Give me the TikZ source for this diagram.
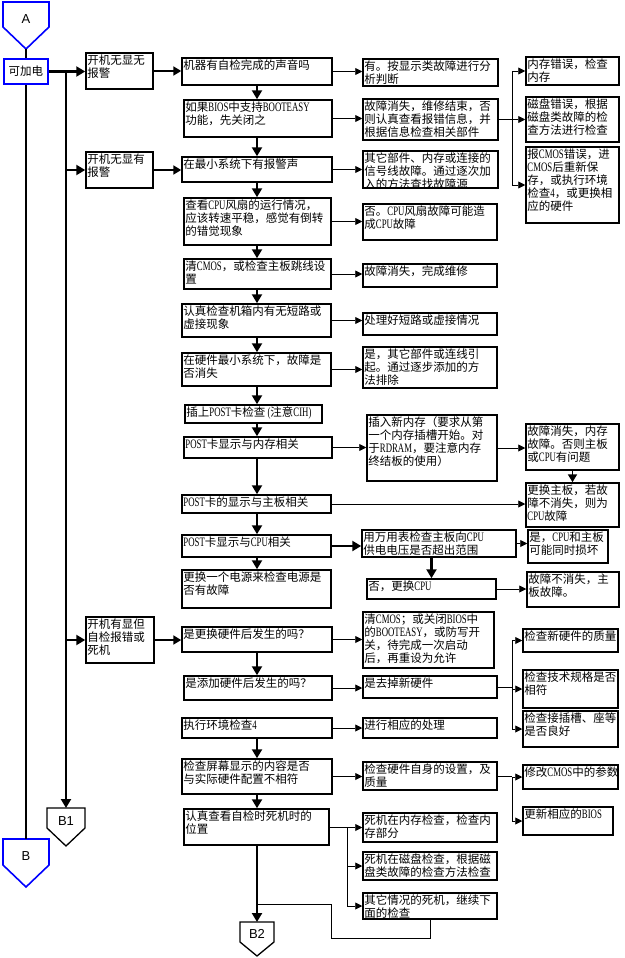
\documentclass[tikz,border=0pt]{standalone}
\usepackage{fontspec}
\setmainfont{Noto Sans CJK SC}
\newfontfamily\latfont[Scale=1.12, FakeStretch=0.68]{Liberation Serif}
\newfontfamily\lblfont{Liberation Sans}
\newcommand\lat[1]{{\latfont #1}}
\usetikzlibrary{arrows.meta}
\definecolor{flowblue}{RGB}{0,0,255}
\tikzset{
  box/.style={draw, line width=1.5pt, fill=white, inner sep=0pt},
  txt/.style={anchor=north west, align=left, inner sep=0pt, xshift=2pt, yshift=-2.5pt,
    font={\fontsize{11.5}{13}\selectfont}},
  athin/.style={line width=0.9pt, -{Triangle[length=7pt,width=7pt]}},
  amed/.style={line width=1.8pt, -{Triangle[length=8pt,width=9pt]}},
  athick/.style={line width=2.6pt, -{Triangle[length=9pt,width=10pt]}},
  plain/.style={line width=0.9pt},
  pent/.style={line width=1.3pt, fill=white},
  lbl/.style={font={\lblfont\fontsize{13}{15}\selectfont}, inner sep=0pt},
}
\newcommand\bx[6]{%
  \node[box, minimum width={(#4-#2)*1pt}, minimum height={(#5-#3)*1pt}] (#1) at ({(#2+#4)/2},{(#3+#5)/2}) {};
  \node[txt] (#1t) at (#1.north west) {#6};}
\begin{document}
\begin{tikzpicture}[x=1pt,y=-1pt]
\useasboundingbox (0,0) rectangle (624,958);
\coordinate (colx) at (257,0);
\coordinate (trunk) at (66,0);
\coordinate (j1) at (512,0);
\coordinate (j3) at (347,0);

% start / end markers
\draw[pent, draw=flowblue, line width=1.6pt] (3,2) -- (49,2) -- (49,27) -- (26,49) -- (3,27) -- cycle;
\node[lbl] (A) at (26,19) {A};
\coordinate (Abot) at (26,49);
\node[box, draw=flowblue, minimum width=44pt, minimum height=25pt, font={\fontsize{11.5}{13.5}\selectfont}] (pw) at (26,71.5) {可加电};

\draw[pent, draw=flowblue, line width=1.6pt] (3,839) -- (49,839) -- (49,865) -- (26,887) -- (3,865) -- cycle;
\node[lbl] (B) at (26,856) {B};
\coordinate (Btop) at (26,839);

\draw[pent, draw=black] (47,808) -- (85,808) -- (85,828) -- (66,846) -- (47,828) -- cycle;
\node[lbl] (B1) at (66,821) {B1};
\coordinate (B1top) at (66,808);

\draw[pent, draw=black] (240,922) -- (274,922) -- (274,942) -- (257,956) -- (240,942) -- cycle;
\node[lbl] (B2) at (257,934) {B2};
\coordinate (B2top) at (257,922);

% column 1
\bx{n1}{86}{53}{153}{89}{开机无显无\\报警}
\bx{n2}{86}{152}{153}{188}{开机无显有\\报警}
\bx{n3}{86}{617}{154}{663}{开机有显但\\自检报错或\\死机}

% column 2
\bx{c1}{182}{58}{332}{85}{机器有自检完成的声音吗}
\bx{c2}{184}{100}{332}{137}{如果\lat{BIOS}中支持\lat{BOOTEASY}\\功能，先关闭之}
\bx{c3}{182}{157}{332}{182}{在最小系统下有报警声}
\bx{c4}{184}{198}{331}{245}{查看\lat{CPU}风扇的运行情况，\\应该转速平稳，感觉有倒转\\的错觉现象}
\bx{c5}{184}{259}{331}{289}{清\lat{CMOS}，或检查主板跳线设\\置}
\bx{c6}{182}{304}{331}{337}{认真检查机箱内有无短路或\\虚接现象}
\bx{c7}{182}{353}{331}{386}{在硬件最小系统下，故障是\\否消失}
\bx{c8}{185}{405}{322}{423}{插上\lat{POST}卡检查\lat{ (}注意\lat{CIH)}}
\bx{c9}{184}{437}{332}{458}{\lat{POST}卡显示与内存相关}
\bx{c10}{182}{495}{331}{513}{\lat{POST}卡的显示与主板相关}
\bx{c11}{182}{535}{331}{557}{\lat{POST}卡显示与\lat{CPU}相关}
\bx{c12}{182}{570}{331}{608}{更换一个电源来检查电源是\\否有故障}
\bx{d1}{182}{627}{332}{652}{是更换硬件后发生的吗？}
\bx{d2}{184}{676}{332}{700}{是添加硬件后发生的吗？}
\bx{d3}{182}{718}{332}{738}{执行环境检查\lat{4}}
\bx{d4}{182}{759}{332}{794}{检查屏幕显示的内容是否\\与实际硬件配置不相符}
\bx{d5}{184}{809}{329}{845}{认真查看自检时死机时的\\位置}

% column 3
\bx{r1}{363}{59}{498}{86}{有。按显示类故障进行分\\析判断}
\bx{r2}{363}{99}{498}{140}{故障消失，维修结束，否\\则认真查看报错信息，并\\根据信息检查相关部件}
\bx{r3}{363}{151}{498}{188}{其它部件、内存或连接的\\信号线故障。通过逐次加\\入的方法查找故障源}
\bx{r4}{363}{204}{497}{240}{否。\lat{CPU}风扇故障可能造\\成\lat{CPU}故障}
\bx{r5}{363}{264}{497}{287}{故障消失，完成维修}
\bx{r6}{363}{313}{497}{335}{处理好短路或虚接情况}
\bx{r7}{363}{347}{497}{388}{是，其它部件或连线引\\起。通过逐步添加的方\\法排除}
\bx{r8}{367}{415}{497}{481}{插入新内存（要求从第\\一个内存插槽开始。对\\于\lat{RDRAM}，要注意内存\\终结板的使用）}
\bx{r9}{362}{530}{516}{557}{用万用表检查主板向\lat{CPU}\\供电电压是否超出范围}
\bx{r10}{367}{579}{496}{599}{否，更换\lat{CPU}}
\bx{s1}{363}{612}{494}{668}{清\lat{CMOS}；或关闭\lat{BIOS}中\\的\lat{BOOTEASY}，或防写开\\关，待完成一次启动\\后，再重设为允许}
\bx{s2}{363}{676}{497}{698}{是去掉新硬件}
\bx{s3}{363}{718}{497}{738}{进行相应的处理}
\bx{s4}{363}{762}{497}{790}{检查硬件自身的设置，及\\质量}
\bx{s5}{363}{813}{497}{842}{死机在内存检查，检查内\\存部分}
\bx{s6}{363}{852}{497}{880}{死机在磁盘检查，根据磁\\盘类故障的检查方法检查}
\bx{s7}{363}{893}{497}{919}{其它情况的死机，继续下\\面的检查}

% column 4
\bx{q1}{526}{57}{619}{85}{内存错误，检查\\内存}
\bx{q2}{526}{97}{619}{142}{磁盘错误，根据\\磁盘类故障的检\\查方法进行检查}
\bx{q3}{526}{147}{619}{223}{报\lat{CMOS}错误，进\\\lat{CMOS}后重新保\\存，或执行环境\\检查\lat{4}，或更换相\\应的硬件}
\bx{q4}{526}{424}{619}{470}{故障消失，内存\\故障。否则主板\\或\lat{CPU}有问题}
\bx{q5}{526}{483}{619}{527}{更换主板，若故\\障不消失，则为\\\lat{CPU}故障}
\bx{q6}{528}{530}{608}{563}{是，\lat{CPU}和主板\\可能同时损坏}
\bx{q7}{527}{572}{619}{607}{故障不消失，主\\板故障。}
\bx{q8}{523}{629}{618}{652}{检查新硬件的质量}
\bx{q9}{523}{670}{618}{708}{检查技术规格是否\\相符}
\bx{q10}{523}{711}{618}{747}{检查接插槽、座等\\是否良好}
\bx{q11}{523}{765}{618}{789}{修改\lat{CMOS}中的参数}
\bx{q12}{523}{807}{613}{835}{更新相应的\lat{BIOS}}

% left connectors
\draw[line width=1.5pt] (Abot) -- (pw.north);
\draw[line width=1.8pt] (pw.south) -- (Btop);
\draw[athick] (pw.east) -- (pw.east -| n1.west);
\draw[athick] (pw.east -| trunk) -- (B1top);
\draw[athick] (trunk |- n2.west) -- (n2.west);
\draw[athick] (trunk |- n3.west) -- (n3.west);
\draw[amed] (n1.east) -- (n1.east -| c1.west);
\draw[amed] (n2.east) -- (n2.east -| c3.west);
\draw[amed] (n3.east) -- (n3.east -| d1.west);

% main column
\draw[athick] (c1.south -| colx) -- (c2.north -| colx);
\draw[athick] (c2.south -| colx) -- (c3.north -| colx);
\draw[athick] (c3.south -| colx) -- (c4.north -| colx);
\draw[athick] (c4.south -| colx) -- (c5.north -| colx);
\draw[athick] (c5.south -| colx) -- (c6.north -| colx);
\draw[athick] (c6.south -| colx) -- (c7.north -| colx);
\draw[athick] (c7.south -| colx) -- (c8.north -| colx);
\draw[athick] (c8.south -| colx) -- (c9.north -| colx);
\draw[athick] (c9.south -| colx) -- (c10.north -| colx);
\draw[athick] (c10.south -| colx) -- (c11.north -| colx);
\draw[athick] (c11.south -| colx) -- (c12.north -| colx);
\draw[athick] (d1.south -| colx) -- (d2.north -| colx);
\draw[athick] (d3.south -| colx) -- (d4.north -| colx);
\draw[athick] (d4.south -| colx) -- (d5.north -| colx);
\draw[athick] (d5.south -| colx) -- (B2top);

% to the right
\draw[athin] (c1.east) -- (c1.east -| r1.west);
\draw[athin] (c2.east) -- (c2.east -| r2.west);
\draw[athin] (c3.east) -- (c3.east -| r3.west);
\draw[athin] (c4.east) -- (c4.east -| r4.west);
\draw[athin] (c5.east) -- (c5.east -| r5.west);
\draw[athin] (c6.east) -- (c6.east -| r6.west);
\draw[athin] (c7.east) -- (c7.east -| r7.west);
\draw[athin] (c9.east) -- (c9.east -| r8.west);
\draw[athin] (c10.east) -- (c10.east -| q5.west);
\draw[athick] (c11.east) -- (c11.east -| r9.west);
\draw[athin] (r9.east) -- (r9.east -| q6.west);
\draw[athick] (r10.north |- r9.south) -- (r10.north);
\draw[athin] (r10.east) -- (r10.east -| q7.west);
\draw[athin] (r8.east) -- (r8.east -| q4.west);
\draw[amed] (q4.south) -- (q4.south |- q5.north);
\draw[athin] (d1.east) -- (d1.east -| s1.west);
\draw[athin] (d2.east) -- (d2.east -| s2.west);
\draw[athin] (d3.east) -- (d3.east -| s3.west);
\draw[athin] (d4.east) -- (d4.east -| s4.west);

% branch from r2
\draw[plain] (r2.east) -- (r2.east -| j1);
\draw[plain] (j1 |- q1.west) -- (j1 |- q3.west);
\draw[athin] (j1 |- q1.west) -- (q1.west);
\draw[athin] (j1 |- q2.west) -- (q2.west);
\draw[athin] (j1 |- q3.west) -- (q3.west);
% branch from s2
\draw[plain] (s2.east) -- (s2.east -| j1);
\draw[plain] (j1 |- q8.west) -- (j1 |- q10.west);
\draw[athin] (j1 |- q8.west) -- (q8.west);
\draw[athin] (j1 |- q9.west) -- (q9.west);
\draw[athin] (j1 |- q10.west) -- (q10.west);
% branch from s4
\draw[plain] (s4.east) -- (s4.east -| j1);
\draw[plain] (j1 |- q11.west) -- (j1 |- q12.west);
\draw[athin] (j1 |- q11.west) -- (q11.west);
\draw[athin] (j1 |- q12.west) -- (q12.west);
% branch from d5
\draw[plain] (d5.east) -- (d5.east -| j3);
\draw[plain] (j3 |- s5.west) -- (j3 |- s7.west);
\draw[athin] (j3 |- s5.west) -- (s5.west);
\draw[athin] (j3 |- s6.west) -- (s6.west);
\draw[athin] (j3 |- s7.west) -- (s7.west);
% loop back
\coordinate (lpa) at (331,938);
\coordinate (lpb) at (331,904);
\draw[plain] (s7.south) |- (lpa) -- (lpb) -- (lpb -| colx);
\end{tikzpicture}
\end{document}
